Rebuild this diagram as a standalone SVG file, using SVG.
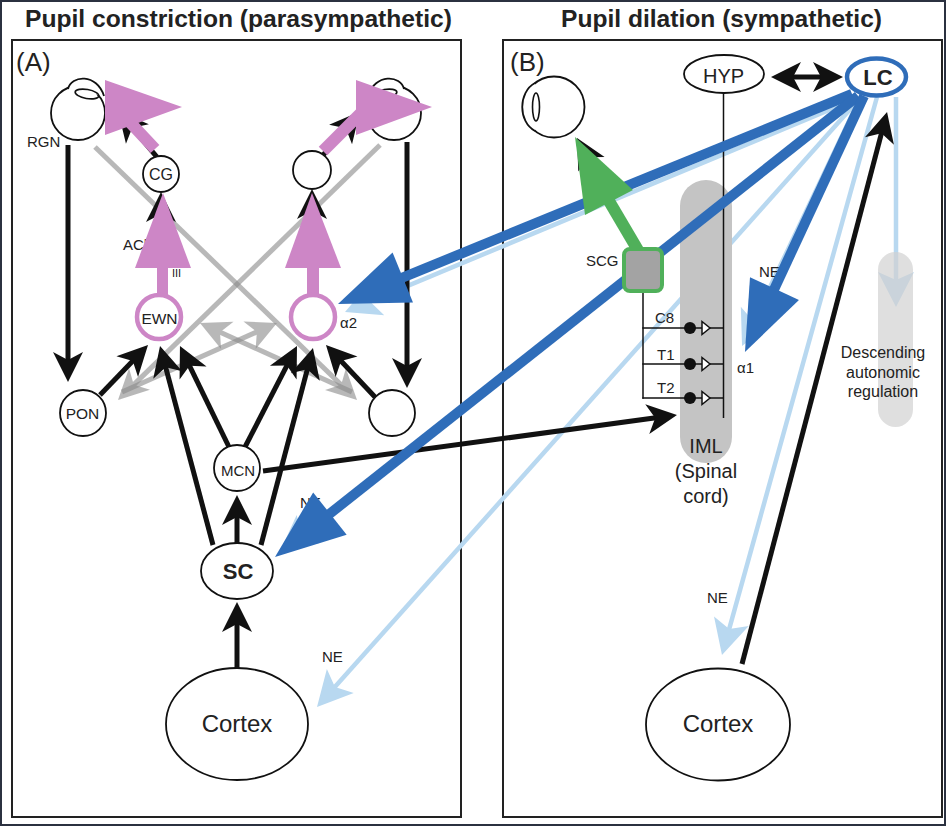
<svg xmlns="http://www.w3.org/2000/svg" width="946" height="826" viewBox="0 0 946 826">
<style>
.t{font-family:"Liberation Sans",Arial,Helvetica,sans-serif;fill:#222}
.n{fill:#fff;stroke:#111;stroke-width:1.8}
.frame{fill:none;stroke:#222;stroke-width:2}
.blk{fill:none;stroke:#111;stroke-width:5;marker-end:url(#ah)}
.gry{fill:none;stroke:#8a8a8a;stroke-width:5;opacity:0.6;marker-end:url(#ahg)}
.lb{fill:none;stroke:#b8d8f0;stroke-width:4.5;marker-end:url(#ahl)}
.db{fill:none;stroke:#2f6db9;stroke-width:10;marker-end:url(#ahd)}
.pk{fill:#cd86c6}
.pks{stroke:#cd86c6;stroke-width:12;fill:none}
.thin{stroke:#111;stroke-width:1.5;fill:none}
</style>
<defs>
<marker id="ah" markerUnits="userSpaceOnUse" viewBox="-20 -17 34 34" markerWidth="34" markerHeight="34" refX="0" refY="0" orient="auto-start-reverse" overflow="visible"><path d="M12,0 L-18,-15 L-10,0 L-18,15 Z" fill="#111"/></marker>
<marker id="ahg" markerUnits="userSpaceOnUse" viewBox="-20 -17 34 34" markerWidth="34" markerHeight="34" refX="0" refY="0" orient="auto" overflow="visible"><path d="M12,0 L-18,-15 L-10,0 L-18,15 Z" fill="#8a8a8a"/></marker>
<marker id="ahl" markerUnits="userSpaceOnUse" viewBox="-25 -19 39 38" markerWidth="39" markerHeight="38" refX="0" refY="0" orient="auto" overflow="visible"><path d="M12,0 L-23,-18 L-15,0 L-23,18 Z" fill="#b8d8f0"/></marker>
<marker id="ahd" markerUnits="userSpaceOnUse" viewBox="-52 -29 74 58" markerWidth="74" markerHeight="58" refX="0" refY="0" orient="auto" overflow="visible"><path d="M20,0 L-50,-27 L-50,27 Z" fill="#2f6db9"/></marker>
</defs>

<rect x="1" y="1" width="944" height="824" fill="#fff" stroke="#2b3140" stroke-width="2"/>

<g id="titles">
<text class="t" x="238.5" y="27" text-anchor="middle" font-weight="bold" font-size="24" textLength="427" lengthAdjust="spacingAndGlyphs">Pupil constriction (parasympathetic)</text>
<text class="t" x="721.5" y="27" text-anchor="middle" font-weight="bold" font-size="24" textLength="321" lengthAdjust="spacingAndGlyphs">Pupil dilation (sympathetic)</text>
</g>

<g id="panels">
<rect class="frame" x="12" y="40" width="449" height="777"/>
<rect class="frame" x="503" y="40" width="439" height="777"/>
<text class="t" x="16" y="71" font-size="26">(A)</text>
<text class="t" x="510" y="71" font-size="26">(B)</text>
</g>

<g id="connectors">
<!-- pretectal gray -->
<line class="gry" x1="95" y1="147" x2="348.4" y2="391.7"/>
<line class="gry" x1="380" y1="145" x2="126.6" y2="391.6"/>
<line class="gry" x1="122" y1="392" x2="266" y2="327.9"/>
<line class="gry" x1="352" y1="392" x2="210.9" y2="328"/>
<!-- light blue NE -->
<line class="lb" x1="858" y1="98" x2="356.1" y2="307.4"/>
<line class="lb" x1="857" y1="94.8" x2="289.8" y2="543.4"/>
<line class="lb" x1="862" y1="96" x2="325" y2="698.1"/>
<line class="lb" x1="860" y1="98" x2="747.2" y2="335.2"/>
<line class="lb" x1="877" y1="97" x2="725.2" y2="643.4"/>
<line class="lb" x1="896" y1="97" x2="896" y2="295"/>
</g>

<g id="IML">
<rect x="680" y="180" width="52" height="283" rx="26" fill="#c4c4c4"/>
</g>
<g id="descending">
<rect x="878" y="252" width="35" height="175" rx="17.5" fill="#d2d2d2" opacity="0.7"/>
</g>

<g id="spinal-wiring">
<line class="thin" x1="723.5" y1="93" x2="723.5" y2="418"/>
<line class="thin" x1="643" y1="291" x2="643" y2="398.7"/>
<line class="thin" x1="642.3" y1="328" x2="723.5" y2="328"/>
<line class="thin" x1="642.3" y1="364" x2="723.5" y2="364"/>
<line class="thin" x1="642.3" y1="398" x2="723.5" y2="398"/>
<circle cx="690" cy="328" r="6" fill="#111"/>
<circle cx="690" cy="364" r="6" fill="#111"/>
<circle cx="690" cy="398" r="6" fill="#111"/>
<polygon points="702,321.5 710,328 702,334.5" fill="#fff" stroke="#111" stroke-width="1.5"/>
<polygon points="702,357.5 710,364 702,370.5" fill="#fff" stroke="#111" stroke-width="1.5"/>
<polygon points="702,391.5 710,398 702,404.5" fill="#fff" stroke="#111" stroke-width="1.5"/>
</g>

<g id="black-connectors">
<line class="blk" x1="68" y1="145" x2="68" y2="370"/>
<line class="blk" x1="407" y1="142" x2="407" y2="376"/>
<line class="blk" x1="100" y1="395" x2="139.7" y2="353.7"/>
<line class="blk" x1="213" y1="545" x2="163.1" y2="357.6"/>
<line class="blk" x1="229" y1="447" x2="185.2" y2="356.8"/>
<line class="blk" x1="245" y1="447" x2="291.5" y2="356.7"/>
<line class="blk" x1="261" y1="545" x2="309.9" y2="359.6"/>
<line class="blk" x1="375" y1="397" x2="334.2" y2="353.7"/>
<line class="blk" x1="237" y1="543" x2="237" y2="507"/>
<line class="blk" x1="237" y1="668" x2="237" y2="614"/>
<line class="blk" x1="263" y1="471" x2="665.1" y2="416.6"/>
<line class="blk" x1="742" y1="664" x2="884" y2="123.6"/>
<line class="blk" x1="783" y1="77" x2="831" y2="77" marker-start="url(#ah)"/>
<line class="blk" x1="156.8" y1="156.9" x2="125.8" y2="120.2"/>
<line class="blk" x1="321.2" y1="157.4" x2="352.2" y2="120.7"/>
<line class="blk" x1="161" y1="296" x2="161" y2="204"/>
<line class="blk" x1="312" y1="296" x2="312" y2="201"/>
<line class="blk" x1="641" y1="255" x2="582.8" y2="148.5"/>
</g>

<g id="eye-left">
<circle class="n" cx="78" cy="113" r="27"/>
<path d="M68,89 C71,75 97,73 104,96" fill="#fff" stroke="#111" stroke-width="1.8"/>
<ellipse cx="87" cy="94" rx="12" ry="4.5" transform="rotate(10 87 94)" fill="none" stroke="#111" stroke-width="1.6"/>
</g>
<g id="eye-right">
<circle class="n" cx="394" cy="113" r="27"/>
<path d="M404,89 C401,75 375,73 368,96" fill="#fff" stroke="#111" stroke-width="1.8"/>
<ellipse cx="385" cy="94" rx="12" ry="4.5" transform="rotate(-10 385 94)" fill="none" stroke="#111" stroke-width="1.6"/>
</g>
<g id="eye-B">
<circle class="n" cx="554" cy="107" r="30.5"/>
<path d="M535,83 C518,92 518,122 535,131" fill="#fff" stroke="#111" stroke-width="1.8"/>
<ellipse cx="536" cy="107" rx="3.5" ry="14" fill="none" stroke="#111" stroke-width="1.6"/>
</g>

<g id="hidden-labels">
<text class="t" x="123" y="250" font-size="15">ACh</text>
<text class="t" x="172" y="277" font-size="11">III</text>
<text class="t" x="300" y="508" font-size="15">NE</text>
<text class="t" x="759" y="277" font-size="15">NE</text>
</g>

<g id="pink-arrows">
<rect class="pk" x="157" y="266" width="11" height="30"/>
<polygon class="pk" points="135,268 191,268 163,193"/>
<rect class="pk" x="307" y="266" width="12" height="30"/>
<polygon class="pk" points="285,268 341,268 312,193"/>
<line class="pks" x1="155" y1="149" x2="125" y2="117"/>
<polygon class="pk" points="105,80 182,107 105,135"/>
<line class="pks" x1="323" y1="151" x2="362" y2="112"/>
<polygon class="pk" points="356,80 432,107 356,135"/>
</g>

<g id="blue-arrows">
<line class="db" x1="852" y1="94" x2="356.5" y2="296.4"/>
<line class="db" x1="858" y1="96" x2="290.7" y2="544.6"/>
<line class="db" x1="864" y1="96" x2="753.4" y2="333.9"/>
</g>

<g id="green-arrow">
<line x1="642" y1="257" x2="609" y2="201" stroke="#50b05a" stroke-width="12"/>
<polygon points="575,137 585,215 633,190" fill="#50b05a"/>
</g>

<g id="CG"><circle class="n" cx="161" cy="174" r="18"/><text class="t" x="161" y="179.5" font-size="16" text-anchor="middle">CG</text></g>
<g id="CG-r"><circle class="n" cx="312" cy="170" r="19"/></g>
<g id="EWN"><circle cx="159" cy="317" r="22" fill="#fff" stroke="#cd86c6" stroke-width="4.5"/><text class="t" x="159.5" y="323.5" font-size="15.5" text-anchor="middle">EWN</text></g>
<g id="alpha2"><circle cx="313" cy="317" r="22" fill="#fff" stroke="#cd86c6" stroke-width="4.5"/><text class="t" x="340" y="328" font-size="15">α2</text></g>
<g id="PON"><circle class="n" cx="83" cy="413" r="23"/><text class="t" x="82.5" y="419" font-size="15.5" text-anchor="middle">PON</text></g>
<g id="PON-r"><circle class="n" cx="392" cy="413" r="23"/></g>
<g id="MCN"><circle class="n" cx="237" cy="468" r="23"/><text class="t" x="238" y="475.5" font-size="15" text-anchor="middle">MCN</text></g>
<g id="SC"><ellipse class="n" cx="237" cy="571" rx="36" ry="28"/><text class="t" x="238" y="578.5" font-size="22" font-weight="bold" text-anchor="middle">SC</text></g>
<g id="cortex-A"><ellipse class="n" cx="237" cy="724" rx="71" ry="56"/><text class="t" x="237" y="732" font-size="24" text-anchor="middle">Cortex</text></g>
<g id="cortex-B"><ellipse class="n" cx="718" cy="724.5" rx="72" ry="56"/><text class="t" x="718" y="732" font-size="24" text-anchor="middle">Cortex</text></g>
<g id="HYP"><ellipse class="n" cx="724" cy="74" rx="40" ry="19"/><text class="t" x="723.5" y="83" font-size="20" text-anchor="middle">HYP</text></g>
<g id="LC"><ellipse cx="876.5" cy="77" rx="29.5" ry="18.5" fill="#fff" stroke="#2f6db9" stroke-width="4.5"/><text class="t" x="878" y="85" font-size="22" font-weight="bold" text-anchor="middle">LC</text></g>
<g id="SCG"><rect x="624" y="249" width="38" height="42" rx="6" fill="#a3a3a3" stroke="#50b05a" stroke-width="4"/><text class="t" x="586" y="266" font-size="15">SCG</text></g>

<g id="labels">
<text class="t" x="27" y="147" font-size="15">RGN</text>
<text class="t" x="322" y="662" font-size="15">NE</text>
<text class="t" x="707" y="603" font-size="15">NE</text>
<text class="t" x="737" y="373" font-size="15">α1</text>
<text class="t" x="655" y="323" font-size="15">C8</text>
<text class="t" x="657" y="360" font-size="15">T1</text>
<text class="t" x="657" y="393" font-size="15">T2</text>
<text class="t" x="706" y="453" font-size="20" text-anchor="middle">IML</text>
<text class="t" x="706" y="478" font-size="20" text-anchor="middle">(Spinal</text>
<text class="t" x="706" y="503" font-size="20" text-anchor="middle">cord)</text>
<text class="t" x="883" y="358" font-size="16" text-anchor="middle" fill="#333">Descending</text>
<text class="t" x="883" y="377.5" font-size="16" text-anchor="middle" fill="#333">autonomic</text>
<text class="t" x="883" y="397" font-size="16" text-anchor="middle" fill="#333">regulation</text>
</g>
</svg>
